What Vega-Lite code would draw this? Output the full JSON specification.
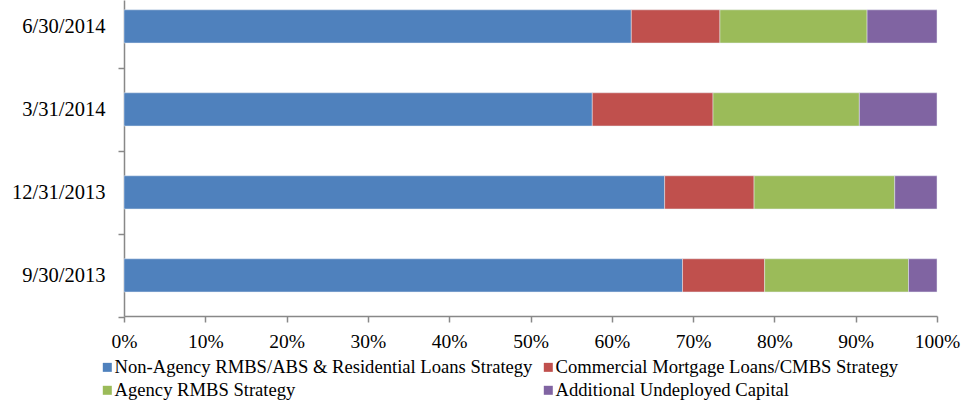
{
  "$schema": "https://vega.github.io/schema/vega-lite/v6.json",
  "width": 813,
  "height": 316,
  "autosize": {"type": "none"},
  "padding": {"left": 124, "top": 0, "right": 24, "bottom": 86},
  "background": "white",
  "config": {
    "view": {"stroke": null},
    "font": "Liberation Serif"
  },
  "data": {
    "values": [
      {"date": "6/30/2014", "k": 1, "strategy": "Non-Agency RMBS/ABS & Residential Loans Strategy", "value": 62.4},
      {"date": "6/30/2014", "k": 2, "strategy": "Commercial Mortgage Loans/CMBS Strategy", "value": 10.9},
      {"date": "6/30/2014", "k": 3, "strategy": "Agency RMBS Strategy", "value": 18.1},
      {"date": "6/30/2014", "k": 4, "strategy": "Additional Undeployed Capital", "value": 8.6},
      {"date": "3/31/2014", "k": 1, "strategy": "Non-Agency RMBS/ABS & Residential Loans Strategy", "value": 57.6},
      {"date": "3/31/2014", "k": 2, "strategy": "Commercial Mortgage Loans/CMBS Strategy", "value": 14.85},
      {"date": "3/31/2014", "k": 3, "strategy": "Agency RMBS Strategy", "value": 18.0},
      {"date": "3/31/2014", "k": 4, "strategy": "Additional Undeployed Capital", "value": 9.55},
      {"date": "12/31/2013", "k": 1, "strategy": "Non-Agency RMBS/ABS & Residential Loans Strategy", "value": 66.5},
      {"date": "12/31/2013", "k": 2, "strategy": "Commercial Mortgage Loans/CMBS Strategy", "value": 11.0},
      {"date": "12/31/2013", "k": 3, "strategy": "Agency RMBS Strategy", "value": 17.3},
      {"date": "12/31/2013", "k": 4, "strategy": "Additional Undeployed Capital", "value": 5.2},
      {"date": "9/30/2013", "k": 1, "strategy": "Non-Agency RMBS/ABS & Residential Loans Strategy", "value": 68.7},
      {"date": "9/30/2013", "k": 2, "strategy": "Commercial Mortgage Loans/CMBS Strategy", "value": 10.1},
      {"date": "9/30/2013", "k": 3, "strategy": "Agency RMBS Strategy", "value": 17.7},
      {"date": "9/30/2013", "k": 4, "strategy": "Additional Undeployed Capital", "value": 3.5}
    ]
  },
  "mark": {"type": "bar", "stroke": "#e8eef5", "strokeWidth": 0.6, "strokeOpacity": 0.8},
  "encoding": {
    "y": {
      "field": "date",
      "type": "nominal",
      "sort": ["6/30/2014", "3/31/2014", "12/31/2013", "9/30/2013"],
      "scale": {"paddingInner": 0.6, "paddingOuter": 0.204, "align": 0.29},
      "axis": {
        "title": null,
        "bandPosition": 1,
        "tickExtra": false,
        "tickOffset": 24.9,
        "labelOffset": -24.9,
        "domainColor": "#888888",
        "domainWidth": 1.5,
        "tickColor": "#888888",
        "tickWidth": 1.5,
        "tickSize": 6,
        "labelFont": "Liberation Serif",
        "labelFontSize": 20.5,
        "labelColor": "#000000",
        "labelPadding": 13,
        "labelLimit": 0,
        "grid": false
      }
    },
    "x": {
      "field": "value",
      "type": "quantitative",
      "stack": "normalize",
      "scale": {"domain": [0, 1], "nice": false},
      "axis": {
        "title": null,
        "format": ".0%",
        "values": [0, 0.1, 0.2, 0.3, 0.4, 0.5, 0.6, 0.7, 0.8, 0.9, 1],
        "grid": false,
        "domainColor": "#888888",
        "domainWidth": 1.5,
        "tickColor": "#888888",
        "tickWidth": 1.5,
        "tickSize": 6,
        "labelFont": "Liberation Serif",
        "labelFontSize": 19.5,
        "labelColor": "#000000",
        "labelPadding": 10,
        "labelFlush": false,
        "labelOverlap": false
      }
    },
    "color": {
      "field": "strategy",
      "type": "nominal",
      "scale": {
        "domain": ["Non-Agency RMBS/ABS & Residential Loans Strategy", "Commercial Mortgage Loans/CMBS Strategy", "Agency RMBS Strategy", "Additional Undeployed Capital"],
        "range": ["#4F81BD", "#C0504D", "#9BBB59", "#8064A2"]
      },
      "legend": {
        "title": null,
        "orient": "none",
        "legendX": -26,
        "legendY": 358,
        "direction": "horizontal",
        "columns": 2,
        "symbolType": "square",
        "symbolSize": 81,
        "symbolStrokeWidth": 0,
        "labelFont": "Liberation Serif",
        "labelFontSize": 18.6,
        "labelColor": "#000000",
        "labelOffset": -2,
        "labelLimit": 0,
        "columnPadding": 6,
        "rowPadding": 4
      }
    },
    "order": {"field": "k", "type": "quantitative"}
  }
}
